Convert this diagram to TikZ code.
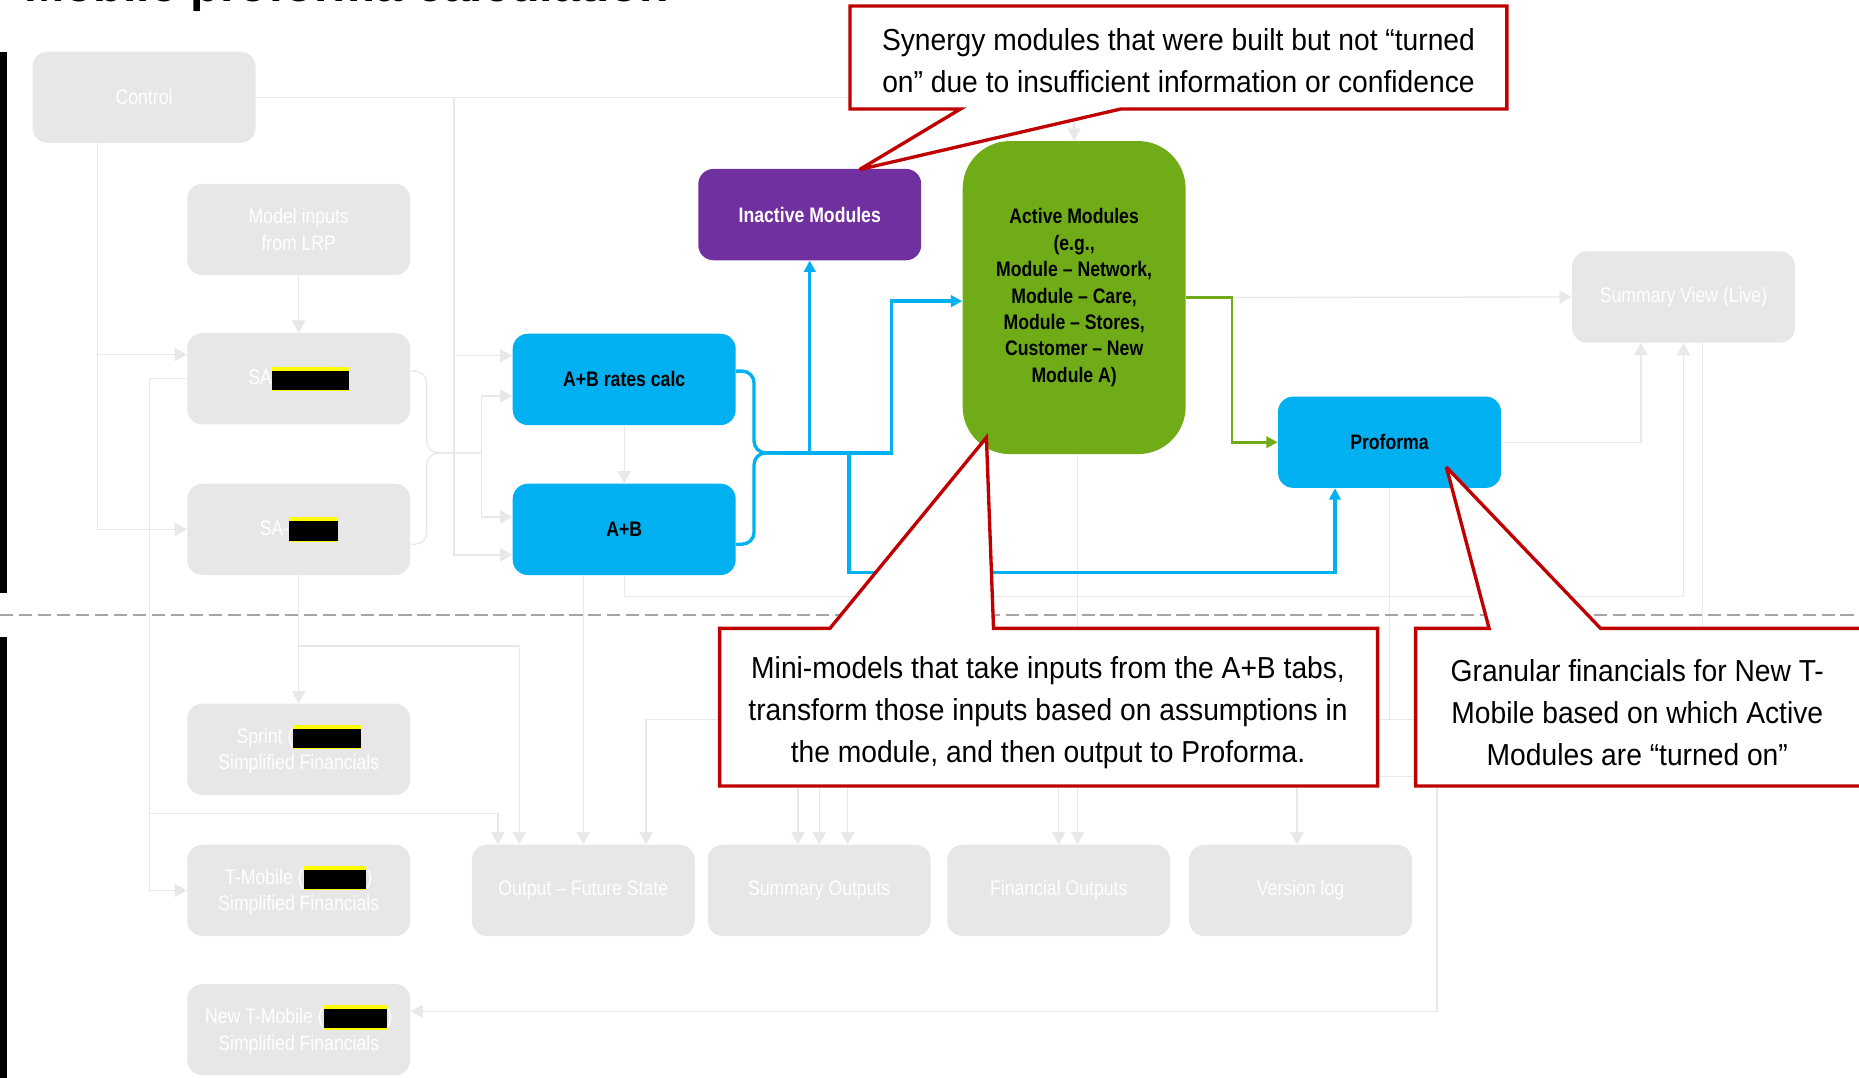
\documentclass[tikz,border=0pt]{standalone}
\usepackage{fontspec}
\setmainfont{Liberation Sans}
\newfontfamily\labelfont{Liberation Sans}[FakeStretch=0.84]
\newfontfamily\notefont{Liberation Sans}[FakeStretch=0.93]
\usetikzlibrary{arrows.meta, calc}

\definecolor{boxgrey}{HTML}{E7E7E7}
\definecolor{linegrey}{HTML}{E8E8E8}
\definecolor{tmblue}{HTML}{00B0F0}
\definecolor{tmpurple}{HTML}{7030A0}
\definecolor{tmgreen}{HTML}{6FAC17}
\definecolor{notered}{HTML}{C00000}
\definecolor{dashgrey}{HTML}{A6A6A6}
\definecolor{markyellow}{HTML}{FFFF00}

\newlength{\pxunit}
\setlength{\pxunit}{0.025cm}
\newcommand{\blackout}[1]{\textcolor{markyellow}{\rule[-0.29em]{#1\pxunit}{1.17em}}\llap{\textcolor{black}{\rule[-0.24em]{#1\pxunit}{0.93em}}}}

\tikzset{
  modbox/.style={rounded corners=0.32cm, minimum width=4.7cm, minimum height=1.925cm,
    inner sep=0pt, align=center, font=\labelfont\fontsize{12.6}{16}\selectfont},
  greybox/.style={modbox, fill=boxgrey, text=white},
  bluebox/.style={modbox, fill=tmblue, text=black, font=\labelfont\bfseries\fontsize{12.6}{16}\selectfont},
  purplebox/.style={modbox, fill=tmpurple, text=white, font=\labelfont\bfseries\fontsize{12.6}{16}\selectfont},
  greenbox/.style={modbox, fill=tmgreen, text=black, minimum height=6.6cm, rounded corners=1cm,
    font=\labelfont\bfseries\fontsize{12.6}{15.8}\selectfont},
  greyline/.style={draw=linegrey, line width=0.8pt},
  greyarrow/.style={greyline, -{Triangle[length=0.26cm, width=0.28cm]}},
  blueline/.style={draw=tmblue, line width=2pt},
  bluearrow/.style={blueline, -{Triangle[length=0.24cm, width=0.24cm]}},
  greenarrow/.style={draw=tmgreen, line width=1.6pt, -{Triangle[length=0.24cm, width=0.24cm]}},
  callout/.style={draw=notered, line width=2pt, fill=white, miter limit=4},
  notetext/.style={align=center, inner sep=0pt, font=\notefont\fontsize{18.2}{25.3}\selectfont},
  sepline/.style={draw=dashgrey, line width=1.4pt, dash pattern=on 0.28cm off 0.12cm}
}

\begin{document}
\begin{tikzpicture}[x=0.025cm, y=-0.025cm]

        \useasboundingbox (0, 0) rectangle (1568, 909);
        \clip (0, 0) rectangle (1568, 909);

        % title, mostly outside the page
        \node[anchor=base west, inner sep=0pt, font=\bfseries\fontsize{29}{30}\selectfont] (title) at (20, 1.5) {Mobile proforma calculation};

        \fill (0, 44) rectangle (6, 500);
        \fill (0, 537) rectangle (6, 909);

        % input side
        \node[greybox] (control) at (121.5, 82) {Control};
        \node[greybox] (lrp) at (252, 193.5) {Model inputs\\from LRP};
        \node[greybox] (saone) at (252, 319.5) {SA\blackout{65}};
        \node[greybox] (satwo) at (252, 446.5) {SA-\blackout{41}};
        \node[greybox] (sprint) at (252, 632) {Sprint (\blackout{57}\\Simplified Financials};
        \node[greybox] (tmob) at (252, 751) {T-Mobile (\blackout{53})\\Simplified Financials};
        \node[greybox] (newtmob) at (252, 868.5) {New T-Mobile (\blackout{53})\\Simplified Financials};

        % calculation
        \node[bluebox] (abrates) at (526.5, 320) {A+B rates calc};
        \node[bluebox] (ab) at (526.5, 446.5) {A+B};
        \node[purplebox] (inactive) at (683, 181) {Inactive Modules};
        \node[greenbox] (active) at (906, 251) {Active Modules\\(e.g.,\\Module – Network,\\Module – Care,\\Module – Stores,\\Customer – New\\Module A)};
        \node[bluebox] (proforma) at (1172, 373) {Proforma};

        % outputs
        \node[greybox] (sumview) at (1420, 250.5) {Summary View (Live)};
        \node[greybox] (outfut) at (492, 751) {Output – Future State};
        \node[greybox] (sumout) at (691, 751) {Summary Outputs};
        \node[greybox] (finout) at (893, 751) {Financial Outputs};
        \node[greybox] (verlog) at (1097, 751) {Version log};

        % grey flows
        \draw[greyarrow] (control.east) -| (active.north);
        \draw[greyarrow] (control.east -| 383,0) |- (abrates.west |- 0,300);
        \draw[greyarrow] (control.east -| 383,0) |- (ab.west |- 0,468);
        \draw[greyarrow] (control.south -| 82,0) |- (saone.west |- 0,299);
        \draw[greyarrow] (control.south -| 82,0) |- (satwo.west);
        \draw[greyarrow] (lrp.south) -- (saone.north);
        \draw[greyline, rounded corners=0.25cm] (saone.east |- 0,313) -| (360, 382) -- (406, 382);
        \draw[greyline, rounded corners=0.25cm] (satwo.east |- 0,459) -| (360, 382) -- (406, 382);
        \draw[greyarrow] (406, 382) |- (abrates.west |- 0,334);
        \draw[greyarrow] (406, 382) |- (ab.west |- 0,436);
        \draw[greyarrow] (abrates.south) -- (ab.north);
        \draw[greyarrow] (ab.south -| 492,0) -- (outfut.north -| 492,0);
        \draw[greyarrow] (ab.south) |- (1420, 503) -- (sumview.south -| 1420,0);
        \draw[greyarrow] (saone.west) -| (126, 751) -- (tmob.west);
        \draw[greyarrow] (126, 686) -| (outfut.north -| 420,0);
        \draw[greyarrow] (satwo.south) -- (sprint.north);
        \draw[greyarrow] (252, 545) -| (outfut.north -| 438,0);
        \draw[greyarrow] (active.east) -- (sumview.west);
        \draw[greyarrow] (active.south -| 909,0) -- (finout.north -| 909,0);
        \draw[greyarrow] (proforma.east) -| (sumview.south -| 1384,0);
        \draw[greyarrow] (proforma.south) |- (545, 607) -- (outfut.north -| 545,0);
        \draw[greyarrow] (673, 607) -- (sumout.north -| 673,0);
        \draw[greyarrow] (893, 607) -- (finout.north -| 893,0);
        \draw[greyarrow] (proforma.south) |- (1212, 607) |- (newtmob.east |- 0,853);
        \draw[greyarrow] (sumview.south -| 1436,0) |- (691, 655) -- (sumout.north -| 691,0);
        \draw[greyarrow] (715, 655) -- (sumout.north -| 715,0);
        \draw[greyarrow] (1094, 655) -- (verlog.north -| 1094,0);

        % coloured flows
        \draw[blueline, rounded corners=0.25cm] (abrates.east |- 0,313) -| (636, 382) -- (680, 382);
        \draw[blueline, rounded corners=0.25cm] (ab.east |- 0,459) -| (636, 382) -- (680, 382);
        \draw[bluearrow] (660, 382) -- (752, 382) |- (active.west |- 0,254);
        \draw[bluearrow] (683, 382) -- (inactive.south);
        \draw[bluearrow] (716, 382) |- (1126, 483) -- (proforma.south -| 1126,0);
        \draw[greenarrow] (active.east) -| (1039, 373) -- (proforma.west);

        \draw[sepline] (0, 519) -- (1568, 519);

        % notes
        \draw[callout] (717, 5) -- (1271, 5) -- (1271, 92) -- (945, 92) -- (725, 143) -- (810, 92) -- (717, 92) -- cycle;
        \node[notetext] (synergynote) at (994, 51) {Synergy modules that were built but not “turned\\on” due to insufficient information or confidence};

        \draw[callout] (607, 530) -- (700, 530) -- (832, 369) -- (838, 530) -- (1162, 530) -- (1162, 663) -- (607, 663) -- cycle;
        \node[notetext] (mininote) at (884, 601) {Mini-models that take inputs from the A+B tabs,\\transform those inputs based on assumptions in\\the module, and then output to Proforma.};

        \draw[callout] (1194, 530) -- (1256, 530) -- (1220, 394) -- (1350, 530) -- (1600, 530) -- (1600, 663) -- (1194, 663) -- cycle;
        \node[notetext] (granularnote) at (1381, 601) {Granular financials for New T-\\Mobile based on which Active\\Modules are “turned on”};

\end{tikzpicture}
\end{document}
